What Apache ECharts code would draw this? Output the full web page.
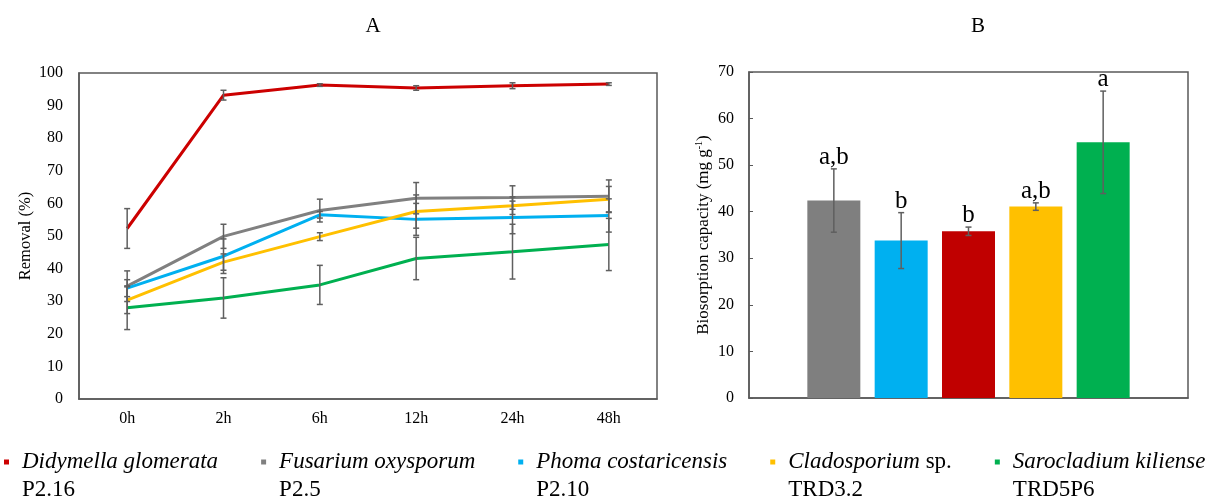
<!DOCTYPE html>
<html>
<head>
<meta charset="utf-8">
<script src="https://cdn.jsdelivr.net/npm/echarts@6/dist/echarts.min.js"></script>
<style>
  html, body { margin: 0; padding: 0; background: #fff; }
  #chart { width: 1209px; height: 500px; }
</style>
</head>
<body>
<div id="chart"></div>
<script>
// --- data ---
const times = ['0h', '2h', '6h', '12h', '24h', '48h'];

const species  = ['Didymella glomerata', 'Fusarium oxysporum', 'Phoma costaricensis', 'Cladosporium', 'Sarocladium kiliense'];
const suffixes = ['', '', '', ' sp.', ''];
const strains  = ['P2.16', 'P2.5', 'P2.10', 'TRD3.2', 'TRD5P6'];
const colors   = ['#CC0000', '#808080', '#00B0F0', '#FFC000', '#00B050'];

// removal (%) over time, panel A
const didymella       = [52.3, 93.2, 96.3, 95.4, 96.1, 96.6];
const didymellaErr    = [6.1, 1.5, 0.4, 0.7, 0.9, 0.4];
const fusarium        = [34.6, 49.9, 57.8, 61.6, 61.8, 62.2];
const fusariumErr     = [4.7, 3.7, 3.5, 4.8, 3.6, 5.0];
const phoma           = [34.0, 43.8, 56.5, 55.1, 55.7, 56.3];
const phomaErr        = [2.6, 5.3, 1.0, 4.9, 5.0, 5.1];
const cladosporium    = [30.3, 42.0, 49.8, 57.5, 59.3, 61.3];
const cladosporiumErr = [4.1, 2.5, 1.2, 5.1, 2.7, 3.9];
const sarocladium     = [28.0, 31.0, 35.0, 43.1, 45.2, 47.4];
const sarocladiumErr  = [6.7, 6.2, 6.0, 6.5, 8.4, 8.0];

const removal    = [didymella, fusarium, phoma, cladosporium, sarocladium];
const removalErr = [didymellaErr, fusariumErr, phomaErr, cladosporiumErr, sarocladiumErr];

// biosorption capacity (mg/g), panel B - bars in drawing order
// (Fusarium, Phoma, Didymella, Cladosporium, Sarocladium)
const barColors   = ['#7F7F7F', '#00B0F0', '#C00000', '#FFC000', '#00B050'];
const barPos      = [1, 2, 3, 4, 5];
const capacity    = [42.4, 33.8, 35.8, 41.1, 54.9];
const capacityErr = [6.8, 6.0, 0.9, 0.8, 11.0];
const letters     = ['a,b', 'b', 'b', 'a,b', 'a'];

const removalTicks  = { min: 0, max: 100, interval: 10 };
const capacityTicks = { min: 0, max: 70, interval: 10 };

// --- styling helpers ---
const FONT = 'Liberation Serif';
const AXIS_COLOR = '#595959';
const ERR_COLOR = '#5F5F5F';

const names = species.map((s, i) => s + suffixes[i]);

function errorBar(api, x, v, e, cap) {
  const top = api.coord([x, v + e]);
  const bot = api.coord([x, v - e]);
  const cx = top[0];
  const st = { stroke: ERR_COLOR, lineWidth: 1.5 };
  return [
    { type: 'line', shape: { x1: cx, y1: top[1], x2: cx, y2: bot[1] }, style: st },
    { type: 'line', shape: { x1: cx - cap, y1: top[1], x2: cx + cap, y2: top[1] }, style: st },
    { type: 'line', shape: { x1: cx - cap, y1: bot[1], x2: cx + cap, y2: bot[1] }, style: st }
  ];
}

const lineSeries = removal.map((vals, k) => ({
  name: names[k],
  type: 'line',
  xAxisIndex: 0, yAxisIndex: 0,
  data: vals,
  symbol: 'none',
  z: 3,
  itemStyle: { color: colors[k] },
  lineStyle: { color: colors[k], width: 3 }
}));

const errSeriesA = removal.map((vals, k) => ({
  type: 'custom',
  xAxisIndex: 0, yAxisIndex: 0,
  z: 4,
  silent: true,
  data: vals.map((v, i) => [i, v, removalErr[k][i]]),
  renderItem: (params, api) => ({
    type: 'group',
    children: errorBar(api, api.value(0), api.value(1), api.value(2), 3)
  })
}));

const barSeries = {
  type: 'bar',
  xAxisIndex: 1, yAxisIndex: 1,
  barWidth: 53,
  data: capacity.map((v, i) => ({
    value: [barPos[i], v],
    itemStyle: { color: barColors[i] }
  }))
};

const errSeriesB = {
  type: 'custom',
  xAxisIndex: 1, yAxisIndex: 1,
  z: 4,
  silent: true,
  data: capacity.map((v, i) => [barPos[i], v, capacityErr[i]]),
  renderItem: (params, api) => {
    const x = api.value(0), v = api.value(1), e = api.value(2);
    const top = api.coord([x, v + e]);
    return {
      type: 'group',
      children: errorBar(api, x, v, e, 3).concat([{
        type: 'text',
        x: top[0], y: top[1] + 1,
        style: {
          text: letters[params.dataIndex],
          align: 'center', verticalAlign: 'bottom',
          fontFamily: FONT, fontSize: 25, fill: '#000'
        }
      }])
    };
  }
};

const chart = echarts.init(document.getElementById('chart'), null, { renderer: 'canvas' });

chart.setOption({
  animation: false,
  backgroundColor: '#fff',
  textStyle: { fontFamily: FONT },
  graphic: [
    { type: 'text', x: 373, y: 26, style: { text: 'A', align: 'center', verticalAlign: 'middle', fontFamily: FONT, fontSize: 21, fill: '#000' } },
    { type: 'text', x: 978, y: 26, style: { text: 'B', align: 'center', verticalAlign: 'middle', fontFamily: FONT, fontSize: 21, fill: '#000' } }
  ],
  legend: {
    data: names,
    left: 4,
    top: 420,
    width: 1400,
    padding: 0,
    itemGap: 43,
    icon: 'rect',
    itemWidth: 5,
    itemHeight: 5,
    selectedMode: false,
    formatter: name => {
      const k = names.indexOf(name);
      const first = '{i|' + species[k] + '}' + (suffixes[k] ? '{n|' + suffixes[k] + '}' : '');
      return first + '\n{n|' + strains[k] + '}';
    },
    textStyle: {
      padding: [28, 0, 0, 8],
      fontFamily: FONT, fontSize: 23, lineHeight: 28, color: '#000',
      rich: {
        i: { fontFamily: FONT, fontSize: 23, lineHeight: 28, fontStyle: 'italic', color: '#000' },
        n: { fontFamily: FONT, fontSize: 23, lineHeight: 28, color: '#000' }
      }
    }
  },
  grid: [
    { left: 79, top: 73, width: 578, height: 326, show: true, borderColor: AXIS_COLOR, borderWidth: 1.5, backgroundColor: 'transparent', containLabel: false, outerBoundsMode: 'none' },
    { left: 749, top: 72, width: 439, height: 326, show: true, borderColor: AXIS_COLOR, borderWidth: 1.5, backgroundColor: 'transparent', containLabel: false, outerBoundsMode: 'none' }
  ],
  xAxis: [
    {
      gridIndex: 0,
      type: 'category',
      data: times,
      boundaryGap: true,
      axisLine: { show: true, lineStyle: { color: AXIS_COLOR, width: 1.5 } },
      axisTick: { show: false },
      axisLabel: { color: '#000', fontFamily: FONT, fontSize: 16, margin: 12 },
      splitLine: { show: false }
    },
    {
      gridIndex: 1,
      type: 'value',
      min: -0.26, max: 6.26,
      axisLine: { show: true, onZero: false, lineStyle: { color: AXIS_COLOR, width: 1.5 } },
      axisTick: { show: false },
      axisLabel: { show: false },
      splitLine: { show: false }
    }
  ],
  yAxis: [
    {
      gridIndex: 0,
      type: 'value',
      min: removalTicks.min, max: removalTicks.max, interval: removalTicks.interval,
      name: 'Removal (%)',
      nameLocation: 'middle',
      nameGap: 45,
      nameTextStyle: { color: '#000', fontFamily: FONT, fontSize: 16.5 },
      axisLine: { show: true, onZero: false, lineStyle: { color: AXIS_COLOR, width: 1.5 } },
      axisTick: { show: false },
      axisLabel: { color: '#000', fontFamily: FONT, fontSize: 16, margin: 16 },
      splitLine: { show: false }
    },
    {
      gridIndex: 1,
      type: 'value',
      min: capacityTicks.min, max: capacityTicks.max, interval: capacityTicks.interval,
      name: '{n|Biosorption capacity (mg g}{s|-1}{n|)}',
      nameLocation: 'middle',
      nameGap: 35,
      nameTextStyle: {
        color: '#000', fontFamily: FONT, fontSize: 17,
        rich: {
          n: { fontFamily: FONT, fontSize: 17, lineHeight: 20, color: '#000' },
          s: { fontFamily: FONT, fontSize: 10, lineHeight: 20, verticalAlign: 'top', color: '#000' }
        }
      },
      axisLine: { show: true, onZero: false, lineStyle: { color: AXIS_COLOR, width: 1.5 } },
      axisTick: { show: true, inside: true, length: 4, lineStyle: { color: AXIS_COLOR, width: 1 } },
      axisLabel: { color: '#000', fontFamily: FONT, fontSize: 16, margin: 15 },
      splitLine: { show: false }
    }
  ],
  series: [...lineSeries, ...errSeriesA, barSeries, errSeriesB]
});

window.addEventListener('resize', () => chart.resize());
</script>
</body>
</html>
